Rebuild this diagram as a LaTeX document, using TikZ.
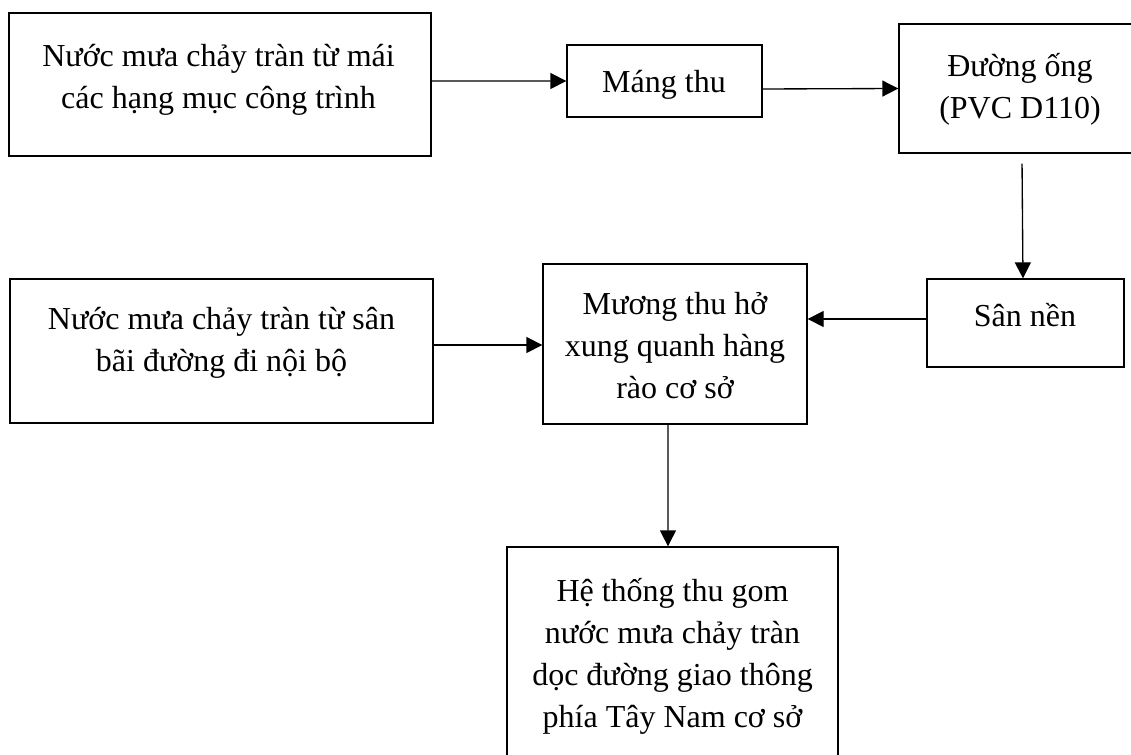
\documentclass[tikz,border=0pt]{standalone}
\usepackage{fontspec}
\setmainfont{Liberation Serif}
\usetikzlibrary{arrows.meta}

\begin{document}
\begin{tikzpicture}[x=0.75pt,y=-0.75pt,
    box/.style={draw,line width=1pt,inner sep=0pt},
    txt/.style={align=center,anchor=base,inner sep=0pt,font=\fontsize{24}{31.5}\selectfont},
    arr/.style={line width=1pt,-{Triangle[length=12pt,width=12pt]}}]
    \useasboundingbox (0,0) rectangle (1131,755);

    \node[box,minimum width=316.5pt,minimum height=107.25pt] (mai) at (220,84.5) {};
    \node[txt] (maitxt) at (218.5,109) {Nước mưa chảy tràn từ mái\\các hạng mục công trình};

    \node[box,minimum width=146.25pt,minimum height=54pt] (mang) at (664.5,81) {};
    \node[txt] (mangtxt) at (664,93) {Máng thu};

    \node[box,minimum width=180.75pt,minimum height=96.75pt] (ong) at (1019.5,88.5) {};
    \node[txt] (ongtxt) at (1020,119) {Đường ống\\(PVC D110)};

    \node[box,minimum width=147.75pt,minimum height=66pt] (san) at (1025.5,323) {};
    \node[txt] (santxt) at (1025,327) {Sân nền};

    \node[box,minimum width=198pt,minimum height=120pt] (muong) at (675,344) {};
    \node[txt] (muongtxt) at (675,398) {Mương thu hở\\xung quanh hàng\\rào cơ sở};

    \node[box,minimum width=317.25pt,minimum height=108pt] (bai) at (221.5,351) {};
    \node[txt] (baitxt) at (221.5,372) {Nước mưa chảy tràn từ sân\\bãi đường đi nội bộ};

    \node[box,minimum width=248.25pt,minimum height=189.75pt] (he) at (672.5,673.5) {};
    \node[txt] (hetxt) at (672.5,727) {Hệ thống thu gom\\nước mưa chảy tràn\\dọc đường giao thông\\phía Tây Nam cơ sở};

    \draw[arr] ([yshift=2.6pt]mai.east) -- (mang.west);
    \draw[arr] ([yshift=-6pt]mang.east) -- (ong.west);
    \draw[arr] ([xshift=1.9pt,yshift=-7.5pt]ong.south) -- ([xshift=-1.9pt]san.north);
    \draw[arr] ([yshift=3pt]san.west) -- ([yshift=18.75pt]muong.east);
    \draw[arr] ([yshift=4.5pt]bai.east) -- ([yshift=-0.75pt]muong.west);
    \draw[arr] ([xshift=-5.25pt]muong.south) -- ([xshift=-3.4pt]he.north);
\end{tikzpicture}
\end{document}
